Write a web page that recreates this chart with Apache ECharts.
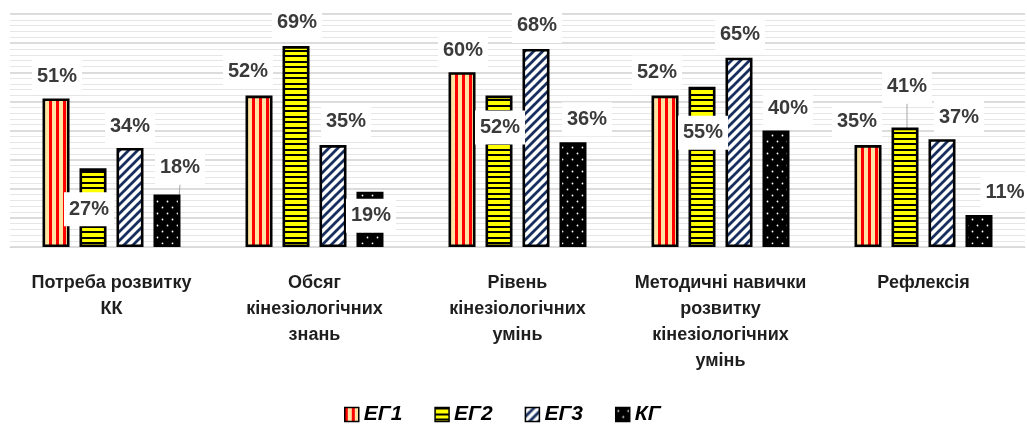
<!DOCTYPE html>
<html>
<head>
<meta charset="utf-8">
<script src="https://cdn.jsdelivr.net/npm/echarts@6/dist/echarts.min.js"></script>
<style>
html,body{margin:0;padding:0;background:#fff;}
#chart{width:1027px;height:425px;}
</style>
</head>
<body>
<div id="chart"></div>
<script>
// ---- data ----
const categories = [
  'Потреба розвитку\nКК',
  'Обсяг\nкінезіологічних\nзнань',
  'Рівень\nкінезіологічних\nумінь',
  'Методичні навички\nрозвитку\nкінезіологічних\nумінь',
  'Рефлексія'
];
const seriesNames = ['ЕГ1', 'ЕГ2', 'ЕГ3', 'КГ'];
const eg1 = [51, 52, 60, 52, 35];
const eg2 = [27, 69, 52, 55, 41];
const eg3 = [34, 35, 68, 65, 37];
const kg  = [18, 19, 36, 40, 11];
const allValues = [eg1, eg2, eg3, kg];

// ---- label placement (layout only: pixel shifts of the value labels) ----
const labelShift = [
  [[1,-5],[-11,-7],[1,-5],[-8,-6],[-11,-7]],
  [[-4,58],[1,-7],[1,49],[1,63],[2,-24]],
  [[0,-4],[13,-7],[1,-6],[1,-6],[17,-5]],
  [[13,-10],[1,41],[14,-6],[12,-5],[26,-5]]
];
const guideLines = [[3,0],[1,4]]; // [seriesIndex, dataIndex]

// ---- patterns ----
function makePattern(w, h, draw) {
  const c = document.createElement('canvas');
  c.width = w; c.height = h;
  const ctx = c.getContext('2d');
  draw(ctx, w, h);
  return { image: c, repeat: 'repeat' };
}
const patEG1 = makePattern(7, 4, (ctx) => {
  ctx.fillStyle = '#ffe3a3'; ctx.fillRect(0, 0, 7, 4);
  ctx.fillStyle = '#ff0000'; ctx.fillRect(0, 0, 3, 4);
});
const patEG2 = makePattern(4, 11, (ctx) => {
  ctx.fillStyle = '#ffff00'; ctx.fillRect(0, 0, 4, 11);
  ctx.fillStyle = '#000000'; ctx.fillRect(0, 0, 4, 2); ctx.fillRect(0, 6, 4, 2);
});
const patEG3 = makePattern(9, 9, (ctx) => {
  ctx.fillStyle = '#ffffff'; ctx.fillRect(0, 0, 9, 9);
  ctx.strokeStyle = '#172f5e'; ctx.lineWidth = 2.8;
  ctx.beginPath();
  ctx.moveTo(-1, 10); ctx.lineTo(10, -1);
  ctx.moveTo(-2, 2); ctx.lineTo(2, -2);
  ctx.moveTo(7, 11); ctx.lineTo(11, 7);
  ctx.stroke();
});
const patKG = makePattern(10, 12, (ctx) => {
  ctx.fillStyle = '#000000'; ctx.fillRect(0, 0, 10, 12);
  ctx.fillStyle = '#ffffff';
  ctx.beginPath(); ctx.arc(2.5, 3.5, 0.9, 0, Math.PI * 2); ctx.fill();
  ctx.beginPath(); ctx.arc(7.5, 9.5, 0.9, 0, Math.PI * 2); ctx.fill();
});
const patterns = [patEG1, patEG2, patEG3, patKG];

const chart = echarts.init(document.getElementById('chart'), null, { renderer: 'canvas' });

const series = seriesNames.map((name, si) => ({
  name: name,
  type: 'bar',
  barWidth: 27,
  barGap: '37%',
  itemStyle: { color: patterns[si], borderColor: '#000', borderWidth: 2.6 },
  label: {
    show: true,
    position: 'top',
    distance: 0,
    formatter: '{c}%',
    fontFamily: 'Liberation Sans, Arial, sans-serif',
    fontSize: 20,
    fontWeight: 'bold',
    color: '#3a3a3a',
    backgroundColor: '#ffffff',
    padding: [7, 5],
    lineHeight: 20
  },
  labelLine: { show: false, lineStyle: { color: '#a6a6a6', width: 1 } },
  labelLayout: function (p) {
    const s = labelShift[p.seriesIndex][p.dataIndex];
    return { dx: s[0], dy: s[1] };
  },
  emphasis: { disabled: true },
  data: allValues[si].map((v, di) => {
    const withLine = guideLines.some(g => g[0] === si && g[1] === di);
    return withLine ? { value: v, labelLine: { show: true } } : v;
  })
}));

chart.setOption({
  animation: false,
  backgroundColor: '#ffffff',
  grid: { left: 10, right: 2, top: 14, bottom: 178, containLabel: false },
  legend: {
    data: seriesNames,
    left: 339,
    top: 399,
    itemWidth: 14,
    itemHeight: 14,
    itemGap: 32,
    icon: 'rect',
    itemStyle: { borderColor: '#000', borderWidth: 1.5 },
    textStyle: {
      fontFamily: 'Liberation Sans, Arial, sans-serif',
      fontSize: 21,
      fontWeight: 'bold',
      fontStyle: 'italic',
      color: '#000'
    }
  },
  xAxis: {
    type: 'category',
    data: categories,
    axisTick: { show: false },
    axisLine: { show: true, lineStyle: { color: '#d9d9d9', width: 1 } },
    axisLabel: {
      interval: 0,
      margin: 23,
      fontFamily: 'Liberation Sans, Arial, sans-serif',
      fontSize: 18,
      fontWeight: 'bold',
      color: '#1e1e1e',
      lineHeight: 26
    }
  },
  yAxis: {
    type: 'value',
    min: 0,
    max: 80,
    interval: 10,
    axisLabel: { show: false },
    axisLine: { show: false },
    axisTick: { show: false },
    splitLine: { show: true, lineStyle: { color: '#d0d0d0', width: 1.5 } },
    minorTick: { show: false, splitNumber: 5 },
    minorSplitLine: { show: true, lineStyle: { color: '#e6e6e6', width: 1 } }
  },
  series: series
});
</script>
</body>
</html>
